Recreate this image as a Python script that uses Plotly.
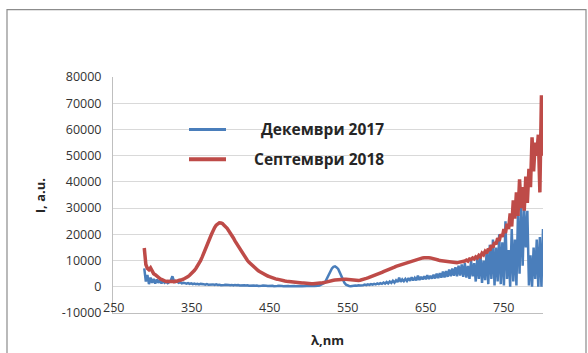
import plotly.graph_objects as go

# Wavelength grid (nm) and measured intensities (a.u.)
wavelength = list(range(290, 802, 2))

dec_2017 = [
    7000, 2000, 4500, 1000, 3500, 1500, 3000, 1200, 2800, 1500,
    2500, 1300, 2200, 1500, 2000, 1400, 1800, 2500, 4000, 2200,
    1800, 2000, 1500, 1800, 1300, 1500, 1400, 1200, 1400, 1100,
    1300, 1000, 1200, 1000, 1100, 900, 1100, 900, 1000, 800,
    1000, 800, 900, 800, 900, 700, 900, 700, 800, 600,
    800, 700, 800, 600, 700, 600, 700, 500, 700, 600,
    700, 500, 600, 500, 600, 500, 600, 400, 500, 400,
    500, 400, 500, 300, 500, 400, 500, 300, 400, 300,
    400, 300, 400, 200, 400, 300, 400, 200, 300, 200,
    300, 200, 300, 200, 300, 200, 300, 200, 300, 200,
    300, 200, 300, 200, 300, 300, 400, 300, 400, 300,
    500, 400, 500, 700, 900, 1400, 2200, 3500, 5000, 6200,
    7000, 7600, 7800, 7400, 6800, 5500, 4000, 2500, 1500, 800,
    400, 300, 200, 400, 300, 500, 400, 600, 500, 700,
    600, 800, 600, 900, 700, 1000, 800, 1100, 900, 1300,
    1000, 1400, 1100, 1600, 1200, 1800, 1300, 2000, 1500, 2300,
    1600, 2500, 1800, 3500, 1900, 2800, 2100, 3000, 2200, 3300,
    2300, 3600, 2400, 3400, 2500, 4200, 2600, 3800, 2800, 4000,
    2900, 4400, 3000, 4200, 3100, 4600, 3200, 5000, 3300, 5200,
    3500, 5800, 3600, 6000, 3800, 6600, 4000, 7000, 4200, 7500,
    4000, 8000, 4300, 8500, 3800, 9000, 3500, 8000, 3000, 10000,
    4000, 9000, 2000, 11000, 3000, 12000, 1500, 10000, 2500, 14000,
    1000, 16000, 3000, 18000, 500, 15000, 2000, 20000, 1000, 17000,
    500, 25000, 3000, 14000, 0, 22000, 2000, 18000, 500, 28000,
    5000, 32000, 8000, 30000, 15000, 29000, 500, 12000, 0, 15000,
    3000, 18000, 0, 19000, 0, 22000,
]

sep_2018 = [
    14800, 8500, 7000, 6500, 7200, 5800, 5000, 4600, 4000, 3500,
    3100, 2800, 2400, 2200, 2000, 2100, 1900, 2000, 2100, 1900,
    2200, 2100, 2400, 2400, 2700, 2900, 3200, 3400, 3900, 4400,
    4900, 5500, 6200, 7000, 7900, 8900, 10000, 11300, 12600, 14000,
    15500, 17000, 18600, 20000, 21500, 22600, 23500, 24100, 24400, 24300,
    24100, 23500, 23000, 22300, 21400, 20600, 19600, 18600, 17500, 16500,
    15400, 14400, 13400, 12500, 11600, 10800, 10000, 9300, 8700, 8100,
    7500, 7000, 6500, 6100, 5700, 5300, 5000, 4700, 4400, 4100,
    3900, 3600, 3400, 3200, 3000, 2900, 2700, 2600, 2500, 2300,
    2200, 2100, 2000, 1900, 1800, 1800, 1700, 1600, 1600, 1500,
    1500, 1400, 1400, 1300, 1300, 1300, 1200, 1200, 1200, 1200,
    1200, 1300, 1300, 1400, 1500, 1600, 1800, 2000, 2100, 2300,
    2400, 2500, 2600, 2700, 2800, 2900, 2900, 3000, 2900, 2900,
    2800, 2700, 2600, 2500, 2400, 2400, 2300, 2400, 2500, 2600,
    2800, 3000, 3200, 3400, 3600, 3800, 4000, 4300, 4500, 4800,
    5000, 5300, 5500, 5800, 6000, 6300, 6500, 6800, 7000, 7300,
    7500, 7800, 8000, 8200, 8500, 8700, 8900, 9100, 9300, 9500,
    9700, 9900, 10100, 10300, 10500, 10600, 10800, 10900, 11000, 11100,
    11200, 11200, 11100, 11000, 10900, 10700, 10600, 10400, 10200, 10000,
    9900, 9800, 9700, 9600, 9600, 9500, 9400, 9300, 9300, 9300,
    9200, 9300, 9400, 9500, 9600, 9800, 10200, 9800, 10600, 10400,
    11000, 10600, 11400, 11000, 12000, 11500, 12800, 12200, 13500, 12800,
    14500, 13800, 15800, 15000, 17000, 16200, 18500, 17500, 20000, 19000,
    22000, 20500, 24000, 22000, 28000, 23000, 33000, 26000, 36000, 27000,
    41000, 30000, 38000, 29000, 42000, 32000, 45000, 38000, 57000, 44000,
    55000, 50000, 58000, 36000, 73000, 50000,
]

series_names = ["Декември 2017", "Септември 2018"]
series_colors = ["#4a7ebb", "#be4b48"]

y_ticks = list(range(-10000, 80001, 10000))
y_ticktext = [str(v) for v in y_ticks]
x_ticks = [250, 350, 450, 550, 650, 750]

W, H = 588, 353
L, R, T, B = 113, 543, 76.5, 313


def px(x):
    return (x - L) / (R - L)


def py(y):
    return (B - y) / (B - T)


fig = go.Figure()
fig.add_trace(go.Scatter(x=wavelength, y=dec_2017, mode="lines", name=series_names[0],
                         line=dict(color=series_colors[0], width=2.5), showlegend=False))
fig.add_trace(go.Scatter(x=wavelength, y=sep_2018, mode="lines", name=series_names[1],
                         line=dict(color=series_colors[1], width=3.5), showlegend=False))

tick_font = dict(family="Open Sans", size=12.5, color="#333333")

fig.update_layout(
    width=W, height=H,
    margin=dict(l=L, r=W - R, t=T, b=H - B, pad=0),
    paper_bgcolor="white", plot_bgcolor="white",
    xaxis=dict(range=[250, 800], tickvals=x_ticks, ticks="", showgrid=False,
               showline=True, linecolor="#bfbfbf", linewidth=1, zeroline=False,
               showticklabels=False, fixedrange=True),
    yaxis=dict(range=[-10000, 80000], tickvals=y_ticks, ticktext=y_ticktext, ticks="",
               showgrid=True, gridcolor="#d9d9d9", gridwidth=1, showline=True,
               linecolor="#bfbfbf", linewidth=1, zeroline=False, tickfont=tick_font,
               ticklabelstandoff=8, fixedrange=True),
    showlegend=False,
)

# Category labels sit just above the bottom axis line
for xv in x_ticks:
    fig.add_annotation(text=str(xv), x=xv, xref="x", y=py(307), yref="paper",
                       xanchor="center", yanchor="middle", showarrow=False, font=tick_font)

# Chart frame
fig.add_shape(type="path", xref="paper", yref="paper",
              path=f"M {px(7)} {py(355)} L {px(7)} {py(9)} L {px(586)} {py(9)} L {px(586)} {py(355)}",
              line=dict(color="#8c8c8c", width=1.2))

# Legend drawn inside the plot
legend_rows = [129, 159]
for name, color, y, w in zip(series_names, series_colors, legend_rows, [3, 4]):
    fig.add_shape(type="line", xref="paper", yref="paper",
                  x0=px(189), x1=px(226), y0=py(y), y1=py(y),
                  line=dict(color=color, width=w))
    fig.add_annotation(text=f"<b>{name}</b>", xref="paper", yref="paper",
                       x=px(386), y=py(y), xanchor="right", yanchor="middle",
                       showarrow=False, font=dict(family="Open Sans", size=15.5, color="#262626"))

# Axis titles
title_font = dict(family="Open Sans", size=13, color="#262626")
fig.add_annotation(text="<b>I, a.u.</b>", xref="paper", yref="paper", x=px(40), y=py(196),
                   xanchor="center", yanchor="middle", textangle=-90, showarrow=False,
                   font=title_font)
fig.add_annotation(text="<b>λ,nm</b>", xref="paper", yref="paper", x=px(327), y=py(340),
                   xanchor="center", yanchor="middle", showarrow=False, font=title_font)

fig.write_html("out.html")
